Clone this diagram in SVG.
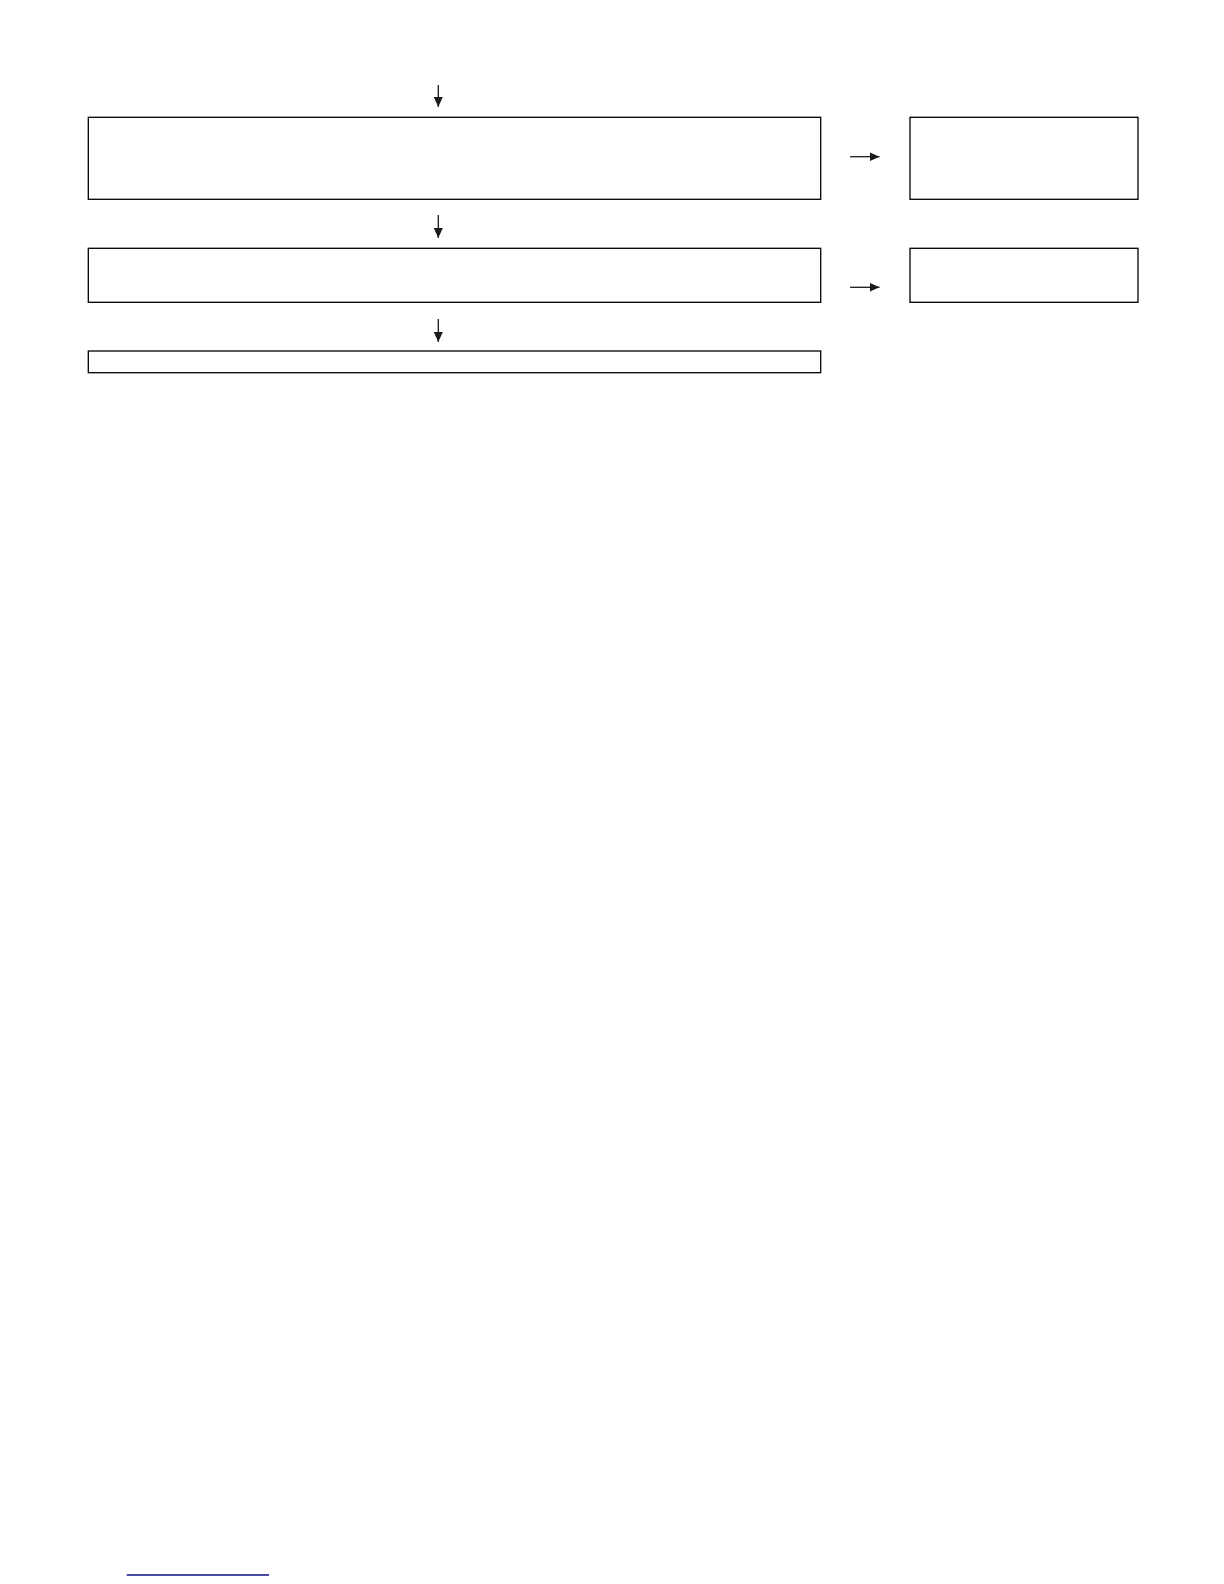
<svg xmlns="http://www.w3.org/2000/svg" width="1224" height="1584" viewBox="0 0 1224 1584">
<style>
.box{fill:#fff;stroke:#000;stroke-width:1.3}
.conn{stroke:#1a1a1a;stroke-width:1.3;fill:none}
</style>
<defs>
<marker id="ah" markerWidth="10" markerHeight="9" refX="10" refY="4.5" orient="auto" markerUnits="userSpaceOnUse">
<path d="M0,0 L10,4.5 L0,9 Z" fill="#1a1a1a"/>
</marker>
</defs>
<rect width="1224" height="1584" fill="#fff"/>
<g id="connectors">
<line class="conn" x1="438.3" y1="85" x2="438.3" y2="107" marker-end="url(#ah)"/>
<line class="conn" x1="438.3" y1="215" x2="438.3" y2="238" marker-end="url(#ah)"/>
<line class="conn" x1="438.3" y1="319" x2="438.3" y2="342" marker-end="url(#ah)"/>
<line class="conn" x1="850" y1="156.7" x2="879.5" y2="156.7" marker-end="url(#ah)"/>
<line class="conn" x1="850" y1="287.3" x2="879.5" y2="287.3" marker-end="url(#ah)"/>
</g>
<g id="node1"><rect class="box" x="88.3" y="117.3" width="732.4" height="82"/></g>
<g id="node2"><rect class="box" x="88.3" y="248.3" width="732.4" height="54"/></g>
<g id="node3"><rect class="box" x="88.3" y="351" width="732.4" height="21.7"/></g>
<g id="node4"><rect class="box" x="910" y="117.3" width="228" height="82"/></g>
<g id="node5"><rect class="box" x="910" y="248.3" width="228" height="54"/></g>
<line x1="126.7" y1="1575" x2="269" y2="1575" stroke="#0f0f85" stroke-width="1.6"/>
</svg>
